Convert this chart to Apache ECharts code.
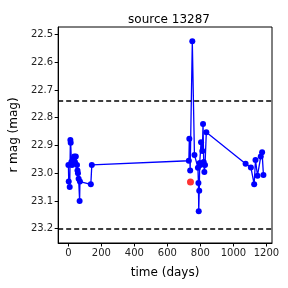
<!DOCTYPE html>
<html><head><meta charset="utf-8">
<script src="https://cdn.jsdelivr.net/npm/echarts@6/dist/echarts.min.js"></script>
<style>html,body{margin:0;padding:0;background:#fff}#c{width:288px;height:288px}</style>
</head><body><div id="c"></div>
<script>
const times = [0, 2, 8, 12, 14, 18, 22, 28, 35, 40, 45, 52, 55, 58, 62, 68, 70, 136, 142,
  730, 733, 738, 751, 764, 785, 788, 790, 793, 796, 800, 804, 812, 816, 820, 824, 828, 836,
  1074, 1106, 1126, 1134, 1146, 1166, 1174, 1182];
const mags = [22.97, 23.03, 23.05, 22.88, 22.89, 22.96, 22.97, 22.95, 22.94, 22.96, 22.94, 22.97, 22.99, 23.00, 23.02, 23.10, 23.03, 23.04, 22.97,
  22.955, 22.876, 22.99, 22.524, 22.934, 22.98, 23.035, 23.137, 23.063, 22.963, 22.97, 22.888, 22.92, 22.823, 22.96, 22.996, 22.97, 22.852,
  22.966, 22.979, 23.04, 22.952, 23.009, 22.94, 22.924, 23.006];
const redTime = [740];
const redMag = [23.032];
const refLines = [22.739, 23.2];
const xTicks = [0, 200, 400, 600, 800, 1000, 1200];
const yTicks = [22.5, 22.6, 22.7, 22.8, 22.9, 23.0, 23.1, 23.2];

const font = 'DejaVu Sans';
const chart = echarts.init(document.getElementById('c'), null, {renderer: 'canvas'});
chart.setOption({
  animation: false,
  title: {text: 'source 13287', left: 164, top: 9, textAlign: 'center',
    textStyle: {fontFamily: font, fontSize: 12, fontWeight: 'normal', color: '#000'}},
  grid: {left: 57, right: 16, top: 27, bottom: 45, show: true, borderColor: '#000', borderWidth: 1},
  xAxis: {type: 'value', min: -62, max: 1234,
    name: 'time (days)', nameLocation: 'middle', nameGap: 24,
    nameTextStyle: {fontFamily: font, fontSize: 12, color: '#000'},
    axisLine: {show: true, onZero: false, lineStyle: {color: '#000'}},
    axisTick: {show: true, length: 3.5, customValues: xTicks, lineStyle: {color: '#000'}},
    axisLabel: {customValues: xTicks, fontFamily: font, fontSize: 10, color: '#222', margin: 5,
      formatter: v => String(v)},
    splitLine: {show: false}},
  yAxis: {type: 'value', inverse: true, min: 22.473, max: 23.2515,
    name: 'r mag (mag)', nameLocation: 'middle', nameGap: 37,
    nameTextStyle: {fontFamily: font, fontSize: 12, color: '#000'},
    axisLine: {show: true, onZero: false, lineStyle: {color: '#000'}},
    axisTick: {show: true, length: 3.5, customValues: yTicks, lineStyle: {color: '#000'}},
    axisLabel: {customValues: yTicks, fontFamily: font, fontSize: 10, color: '#222', margin: 5,
      formatter: v => v.toFixed(1)},
    splitLine: {show: false}},
  series: [
    {type: 'line', data: times.map((t, i) => [t, mags[i]]),
      symbol: 'circle', symbolSize: 6, showSymbol: true,
      lineStyle: {color: '#0000ff', width: 1.3}, itemStyle: {color: '#0000ff'},
      markLine: {silent: true, symbol: 'none', label: {show: false},
        lineStyle: {color: '#000', type: [5, 3], width: 1.5},
        data: refLines.map(v => ({yAxis: v}))}},
    {type: 'scatter', data: redTime.map((t, i) => [t, redMag[i]]),
      symbol: 'circle', symbolSize: 7, itemStyle: {color: '#ff0000'}, z: 5}
  ]
});
</script></body></html>
